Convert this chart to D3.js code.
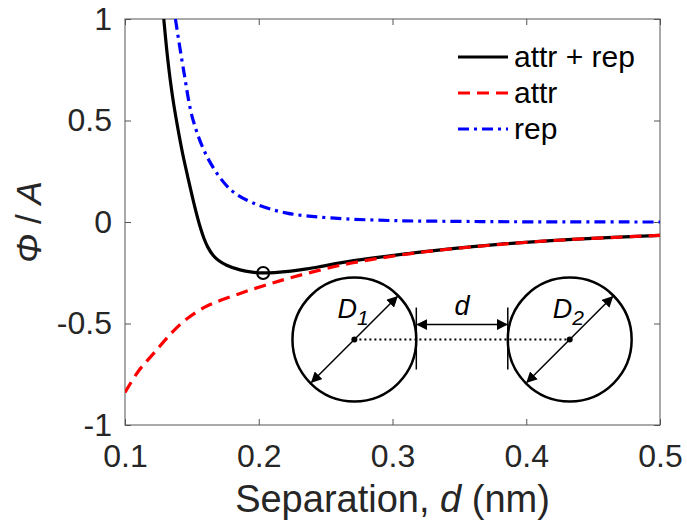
<!DOCTYPE html>
<html>
<head>
<meta charset="utf-8">
<script src="https://cdn.jsdelivr.net/npm/d3@7"></script>
<style>
  body { margin: 0; background: #fff; }
  text { font-family: "Liberation Sans", Arial, sans-serif; }
</style>
</head>
<body>
<div id="chart"></div>
<script>
/* CONSTANTS AND GLOBALS */
const width = 687,
  height = 522,
  margin = { top: 19, bottom: 97, left: 125, right: 27 }

/* DATA */
const xTicks = [0.1, 0.2, 0.3, 0.4, 0.5]
const yTicks = [-1, -0.5, 0, 0.5, 1]

// attr + rep (solid black)
const totalD = [0.1290, 0.1320, 0.1355, 0.1390, 0.1430, 0.1470, 0.1505, 0.1535, 0.1560, 0.1590, 0.1620, 0.1660, 0.1700, 0.1760, 0.1860, 0.1950, 0.2033, 0.2120, 0.2240, 0.2360, 0.2480, 0.2610, 0.2860, 0.3110, 0.3360, 0.3810, 0.4310, 0.5000]
const totalV = [1.00, 0.80, 0.62, 0.48, 0.34, 0.22, 0.12, 0.04, -0.02, -0.08, -0.125, -0.165, -0.19, -0.213, -0.236, -0.247, -0.251, -0.249, -0.242, -0.231, -0.217, -0.201, -0.177, -0.156, -0.137, -0.109, -0.087, -0.066]

// attr (red dashed)
const attrD = [0.100, 0.110, 0.1216, 0.135, 0.1466, 0.160, 0.1715, 0.186, 0.1964, 0.211, 0.2214, 0.236, 0.261, 0.286, 0.311, 0.336, 0.381, 0.431, 0.500]
const attrV = [-0.84, -0.735, -0.646, -0.545, -0.475, -0.418, -0.386, -0.352, -0.329, -0.299, -0.279, -0.253, -0.213, -0.183, -0.158, -0.138, -0.110, -0.087, -0.066]

// rep (blue dash-dot)
const repD = [0.1377, 0.144, 0.151, 0.1626, 0.179, 0.196, 0.221, 0.254, 0.300, 0.350, 0.400, 0.500]
const repV = [1.0, 0.74, 0.50, 0.306, 0.159, 0.093, 0.044, 0.020, 0.007, 0.003, 0.001, 0.0]

// minimum marker
const minPoint = { d: 0.2033, v: -0.251 }

const legendLabels = ["attr + rep", "attr", "rep"]
const seriesColors = ["#000000", "#ff0000", "#0000ff"]
const seriesDash = [null, "12,7", "11,5,3,5"]

// inset schematic, in data units
const particles = [{ d: 0.2715, v: -0.579, label: "D", sub: "1" }, { d: 0.4325, v: -0.579, label: "D", sub: "2" }]
const particleR = 0.0463  // radius in d units

const svg = d3.select("#chart")
  .append("svg")
  .attr("width", width)
  .attr("height", height)

svg.append("rect").attr("width", width).attr("height", height).attr("fill", "#fff")

// scales
const xScale = d3.scaleLinear()
  .domain([0.1, 0.5])
  .range([margin.left, width - margin.right])

const yScale = d3.scaleLinear()
  .domain([-1, 1])
  .range([height - margin.bottom, margin.top])

const axisColor = "#555"
const textColor = "#262626"

// clip for curves
svg.append("clipPath").attr("id", "clip")
  .append("rect")
  .attr("x", margin.left).attr("y", margin.top)
  .attr("width", width - margin.left - margin.right)
  .attr("height", height - margin.top - margin.bottom)

// axes (ticks inward, box)
const xAxis = d3.axisBottom(xScale).tickValues(xTicks).tickSize(-6).tickPadding(19)
  .tickFormat(d => String(d))
svg.append("g")
  .attr("class", "x-axis")
  .attr("transform", `translate(0, ${height - margin.bottom})`)
  .call(xAxis)

const yAxis = d3.axisLeft(yScale).tickValues(yTicks).tickSize(-6).tickPadding(13)
  .tickFormat(d => String(d))
svg.append("g")
  .attr("class", "y-axis")
  .attr("transform", `translate(${margin.left}, 0)`)
  .call(yAxis)

// top and right ticks
svg.append("g")
  .attr("transform", `translate(0, ${margin.top})`)
  .call(d3.axisTop(xScale).tickValues(xTicks).tickSize(-6).tickFormat(""))
svg.append("g")
  .attr("transform", `translate(${width - margin.right}, 0)`)
  .call(d3.axisRight(yScale).tickValues(yTicks).tickSize(-6).tickFormat(""))

svg.selectAll(".tick line").attr("stroke", axisColor)
svg.selectAll(".domain").remove()
svg.selectAll(".x-axis text, .y-axis text")
  .attr("font-size", 32)
  .attr("fill", textColor)
  .attr("font-family", "Liberation Sans, Arial, sans-serif")

svg.append("rect")
  .attr("x", margin.left).attr("y", margin.top)
  .attr("width", width - margin.left - margin.right)
  .attr("height", height - margin.top - margin.bottom)
  .attr("fill", "none")
  .attr("stroke", axisColor)
  .attr("stroke-width", 1)

// axis labels
const xLabel = svg.append("text")
  .attr("x", (margin.left + width - margin.right) / 2)
  .attr("y", 512)
  .attr("text-anchor", "middle")
  .attr("font-size", 38)
  .attr("fill", textColor)
xLabel.append("tspan").text("Separation, ")
xLabel.append("tspan").attr("font-style", "italic").text("d")
xLabel.append("tspan").text(" (nm)")

const yLabel = svg.append("text")
  .attr("transform", `translate(41, ${yScale(0)}) rotate(-90)`)
  .attr("text-anchor", "middle")
  .attr("font-size", 35)
  .attr("fill", textColor)
yLabel.append("tspan").attr("font-style", "italic").text("Φ")
yLabel.append("tspan").text(" / ")
yLabel.append("tspan").attr("font-style", "italic").text("A")

// curves
const lineGen = d3.line()
  .x(d => xScale(d[0]))
  .y(d => yScale(d[1]))
  .curve(d3.curveCatmullRom.alpha(0.5))

const series = [
  d3.zip(totalD, totalV),
  d3.zip(attrD, attrV),
  d3.zip(repD, repV)
]

const plot = svg.append("g").attr("clip-path", "url(#clip)")
// draw order: rep, total, attr on top
;[2, 0, 1].forEach(i => {
  plot.append("path")
    .datum(series[i])
    .attr("fill", "none")
    .attr("stroke", seriesColors[i])
    .attr("stroke-width", 3.2)
    .attr("stroke-dasharray", seriesDash[i])
    .attr("d", lineGen)
})

svg.append("circle")
  .attr("cx", xScale(minPoint.d))
  .attr("cy", yScale(minPoint.v))
  .attr("r", 6)
  .attr("fill", "none")
  .attr("stroke", "#000")
  .attr("stroke-width", 2)

// legend
const legend = svg.append("g").attr("class", "legend")
legendLabels.forEach((lab, i) => {
  const ly = 57 + i * 36
  legend.append("line")
    .attr("x1", 458).attr("x2", 508)
    .attr("y1", ly).attr("y2", ly)
    .attr("stroke", seriesColors[i])
    .attr("stroke-width", 3)
    .attr("stroke-dasharray", seriesDash[i])
  legend.append("text")
    .attr("x", 514).attr("y", ly + 10)
    .attr("font-size", 30)
    .attr("fill", "#000")
    .text(lab)
})

// inset schematic
const defs = svg.append("defs")
defs.append("marker")
  .attr("id", "arrow")
  .attr("viewBox", "0 0 10 10")
  .attr("refX", 9).attr("refY", 5)
  .attr("markerWidth", 11).attr("markerHeight", 11)
  .attr("markerUnits", "userSpaceOnUse")
  .attr("orient", "auto-start-reverse")
  .append("path")
  .attr("d", "M0,0 L10,5 L0,10 z")
  .attr("fill", "#000")

const inset = svg.append("g").attr("class", "inset")
const rPx = xScale(0.1 + particleR) - xScale(0.1)
const cy = yScale(particles[0].v)
const c1 = xScale(particles[0].d), c2 = xScale(particles[1].d)

inset.append("line")
  .attr("x1", c1).attr("x2", c2).attr("y1", cy).attr("y2", cy)
  .attr("stroke", "#000").attr("stroke-width", 2).attr("stroke-dasharray", "2,3")

particles.forEach(p => {
  const cx = xScale(p.d)
  inset.append("circle")
    .attr("cx", cx).attr("cy", cy).attr("r", rPx)
    .attr("fill", "none").attr("stroke", "#000").attr("stroke-width", 2.5)
  inset.append("circle")
    .attr("cx", cx).attr("cy", cy).attr("r", 3).attr("fill", "#000")
  const k = rPx * Math.SQRT1_2 - 1
  inset.append("line")
    .attr("x1", cx - k).attr("y1", cy + k)
    .attr("x2", cx + k).attr("y2", cy - k)
    .attr("stroke", "#000").attr("stroke-width", 1.5)
    .attr("marker-start", "url(#arrow)")
    .attr("marker-end", "url(#arrow)")
  const t = inset.append("text")
    .attr("x", cx - 17).attr("y", cy - 22)
    .attr("font-family", "Open Sans, sans-serif")
    .attr("font-size", 27)
    .attr("font-style", "italic")
    .attr("fill", "#000")
  t.append("tspan").text(p.label)
  t.append("tspan").attr("dy", 7).attr("font-size", 21).text(p.sub)
})

// separation bars and arrow
const gapL = c1 + rPx, gapR = c2 - rPx
;[gapL, gapR].forEach(x => {
  inset.append("line")
    .attr("x1", x).attr("x2", x)
    .attr("y1", cy - 32).attr("y2", cy + 30)
    .attr("stroke", "#000").attr("stroke-width", 1.5)
})
inset.append("line")
  .attr("x1", gapL + 1).attr("x2", gapR - 1)
  .attr("y1", cy - 15).attr("y2", cy - 15)
  .attr("stroke", "#000").attr("stroke-width", 1.5)
  .attr("marker-start", "url(#arrow)")
  .attr("marker-end", "url(#arrow)")
inset.append("text")
  .attr("x", (gapL + gapR) / 2).attr("y", cy - 25)
  .attr("text-anchor", "middle")
  .attr("font-family", "Open Sans, sans-serif")
  .attr("font-size", 27)
  .attr("font-style", "italic")
  .text("d")
</script>
</body>
</html>
